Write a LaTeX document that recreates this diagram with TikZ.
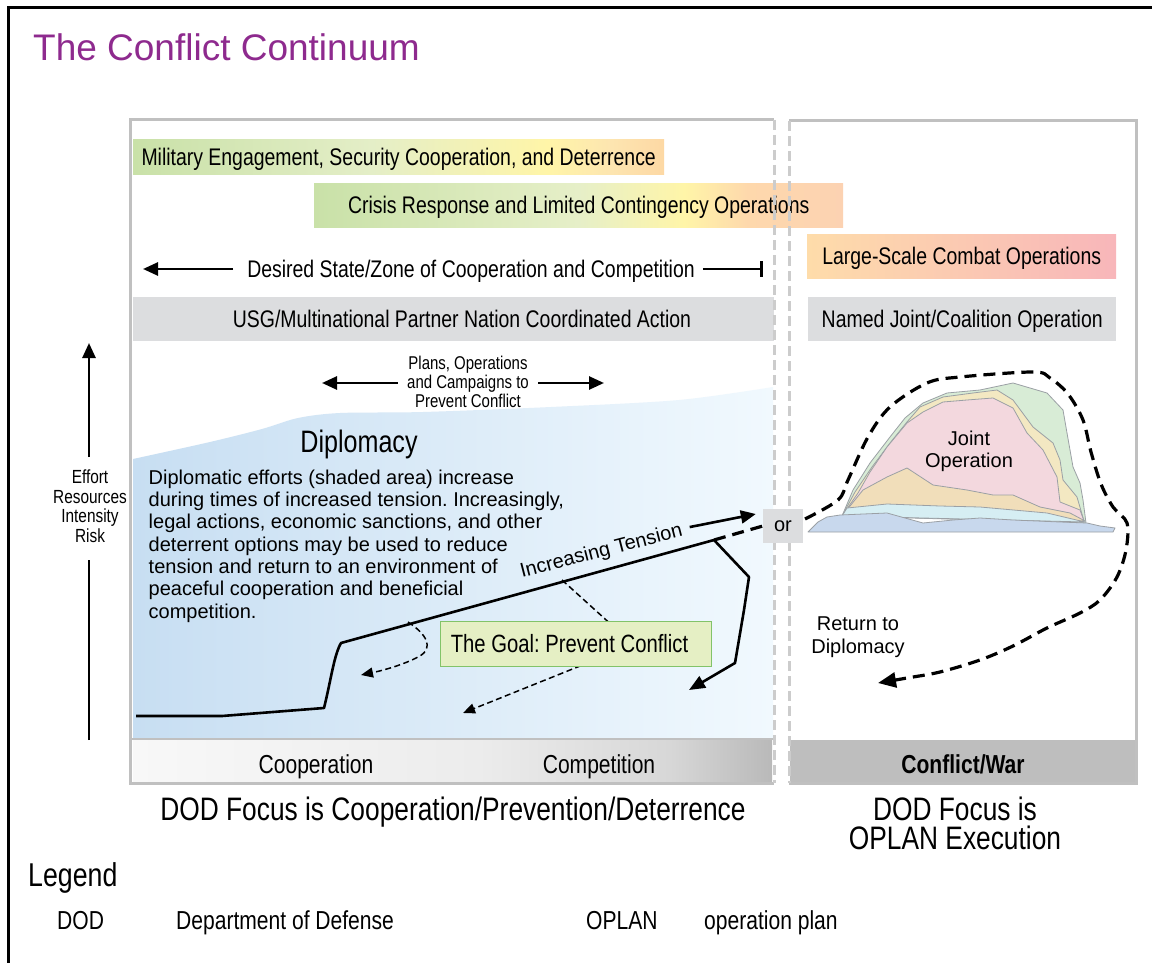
\documentclass[tikz,border=0pt]{standalone}
\usepackage{fontspec}
\setmainfont{Liberation Sans}
\newfontfamily\nf[FakeStretch=0.81]{Liberation Sans}
\usetikzlibrary{arrows.meta,calc}
\newcommand\fsz[2]{\fontsize{#1}{#2}\selectfont}
\frenchspacing

\definecolor{titlepurple}{RGB}{142,42,142}
\definecolor{framegray}{RGB}{192,192,192}
\definecolor{dashgray}{RGB}{204,204,204}
\definecolor{boxgray}{RGB}{220,221,223}
\definecolor{goalfill}{RGB}{229,239,196}
\definecolor{goalline}{RGB}{130,195,105}
\definecolor{diplL}{RGB}{199,222,242}
\definecolor{diplR}{RGB}{241,249,254}
\definecolor{warbar}{RGB}{190,190,190}
\definecolor{mgreen}{RGB}{216,236,214}
\definecolor{myellow}{RGB}{243,232,194}
\definecolor{mpink}{RGB}{243,216,222}
\definecolor{mtan}{RGB}{241,222,186}
\definecolor{mcyan}{RGB}{214,238,243}
\definecolor{mblue}{RGB}{200,216,237}
\definecolor{mline}{RGB}{155,160,165}
\definecolor{a1}{RGB}{201,225,168}
\definecolor{a2}{RGB}{228,238,199}
\definecolor{a3}{RGB}{255,245,168}
\definecolor{a4}{RGB}{253,229,176}
\definecolor{a5}{RGB}{253,216,164}
\definecolor{b2}{RGB}{230,239,200}
\definecolor{b4}{RGB}{254,216,172}
\definecolor{b5}{RGB}{252,210,178}
\definecolor{l1}{RGB}{254,220,170}
\definecolor{l2}{RGB}{248,182,186}
\definecolor{g1}{RGB}{248,248,248}
\definecolor{g2}{RGB}{236,236,236}
\definecolor{g3}{RGB}{215,215,215}
\definecolor{g4}{RGB}{185,185,185}

\pgfdeclarehorizontalshading{bandA}{100bp}{color(0bp)=(a1); color(25bp)=(a1); color(47.5bp)=(a2); color(64bp)=(a3); color(70bp)=(a4); color(75bp)=(a5); color(100bp)=(a5)}
\pgfdeclarehorizontalshading{bandB}{100bp}{color(0bp)=(a1); color(25bp)=(a1); color(50bp)=(b2); color(60bp)=(a3); color(66bp)=(b4); color(75bp)=(b5); color(100bp)=(b5)}
\pgfdeclarehorizontalshading{barA}{100bp}{color(0bp)=(g1); color(25bp)=(g1); color(52bp)=(g2); color(67bp)=(g3); color(75bp)=(g4); color(100bp)=(g4)}

\begin{document}
\begin{tikzpicture}[x=1pt,y=-1pt,
  nar/.style={font=\nf\fsz{24}{28}, inner sep=0pt, text height=17.2pt, text depth=0pt},
  framel/.style={draw=framegray, line width=3pt},
  dashl/.style={draw=dashgray, line width=3pt, dash pattern=on 10pt off 5pt},
  arr/.style={line width=2.6pt, -{Triangle[length=15pt,width=13pt]}},
  bigdash/.style={line width=3.2pt, dash pattern=on 12pt off 7pt},
  thindash/.style={line width=1.5pt, dash pattern=on 6pt off 3.5pt},
  mtl/.style={draw=mline, line width=0.8pt, line join=round},
  arial/.style={font=\fsz{20}{22}, inner sep=0pt}]
\useasboundingbox (0,0) rectangle (1152,963);
\fill[white] (0,0) rectangle (1152,963);

% outer frame
\draw[line width=3pt] (1152,7.5) -- (8.5,7.5) -- (8.5,963);

% title
\node[font=\fsz{37}{44}, text=titlepurple, inner sep=0pt, anchor=base west] (title) at (33,61) {The Conflict Continuum};

% diplomacy shading
\shade[left color=diplL, right color=diplR] plot[smooth, tension=0.5] coordinates {(133,459) (210,442) (262,429) (298,418) (340,413) (423,412) (551,407) (679,400) (773,387)} -- (773,739) -- (133,739) -- cycle;

% bottom bars
\node[anchor=north west, minimum width=639pt, minimum height=42pt, inner sep=0pt, shade, shading=barA] (coopbar) at (133,740) {};
\node[anchor=north west, minimum width=345pt, minimum height=42pt, inner sep=0pt, fill=warbar] (warb) at (790,740) {};
\draw[framel, line width=2pt] (131,739) -- (773,739);

% bands
\node[nar, anchor=north west, minimum width=531pt, minimum height=35pt, shade, shading=bandA] (meng) at (133,139) {Military Engagement, Security Cooperation, and Deterrence};
\node[nar, anchor=north west, minimum width=529pt, minimum height=44pt, shade, shading=bandB] (crisis) at (314,183) {Crisis Response and Limited Contingency Operations};
\node[nar, anchor=north west, minimum width=309pt, minimum height=44pt, left color=l1, right color=l2] (lsco) at (807,234) {Large-Scale Combat Operations};
\node[anchor=north west, minimum width=641pt, minimum height=44pt, inner sep=0pt, fill=boxgray] (usg) at (133,297) {};
\node[nar] (usgt) at (462,319) {USG/Multinational Partner Nation Coordinated Action};
\node[nar, anchor=north west, minimum width=308pt, minimum height=44pt, fill=boxgray] (named) at (808,297) {Named Joint/Coalition Operation};

% desired state arrow
\node[nar] (desired) at (471,269) {Desired State/Zone of Cooperation and Competition};
\coordinate (dsl) at (143,269);
\coordinate (dsr) at (763,269);
\draw[arr] ([xshift=-14pt]desired.west) -- (dsl);
\draw[line width=2.6pt, -{Bar[width=16pt,line width=2.6pt]}] ([xshift=8pt]desired.east) -- (dsr);

% panel frames
\draw[framel] (774,120) -- (130,120) -- (130,783) -- (774,783);
\draw[dashl] (774,120) -- (774,783);
\draw[framel] (789,121) -- (1136,121) -- (1136,783) -- (789,783);
\draw[dashl] (789,121) -- (789,783);

% plans
\node[font=\nf\fsz{18.5}{19}, align=center, inner sep=0pt, anchor=north] (plans) at (468,356) {Plans, Operations\\and Campaigns to\\Prevent Conflict};
\coordinate (plL) at (322,383);
\coordinate (plR) at (604,383);
\draw[arr] ([xshift=-9pt]plans.west |- plL) -- (plL);
\draw[arr] ([xshift=9pt]plans.east |- plR) -- (plR);

% diplomacy text
\node[font=\nf\fsz{31}{36}, inner sep=0pt, text height=22.2pt, text depth=0pt] (dipl) at (359,441) {Diplomacy};
\node[font=\fsz{20}{22.3}, align=left, anchor=north west, inner sep=0pt] (para) at (148.5,469.6) {Diplomatic efforts (shaded area) increase\\during times of increased tension. Increasingly,\\legal actions, economic sanctions, and other\\deterrent options may be used to reduce\\tension and return to an environment of\\peaceful cooperation and beneficial\\competition.};

% left axis
\node[font=\nf\fsz{19}{19.5}, align=center, inner sep=0pt, anchor=north] (axis) at (90,470) {Effort\\Resources\\Intensity\\Risk};
\coordinate (axbot) at (89,740);
\coordinate (axtop) at (89,343);
\draw[line width=2.6pt] (axbot) -- (axbot |- 0,560);
\draw[arr] (axbot |- 0,457) -- (axtop);

% thin dashed arrows
\coordinate (d1s) at (408,622);
\coordinate (d2s) at (562,580);
\draw[thindash, -{Triangle[length=12pt,width=10pt]}] (d1s) .. controls (425,633) and (436,648) .. (418,657) .. controls (405,664) and (385,670) .. (361,675);
\draw[thindash, -{Triangle[length=12pt,width=10pt]}] (d2s) -- (615,628) -- (590,662) -- (463,713);

% goal box
\node[draw=goalline, fill=goalfill, line width=1.2pt, minimum width=271pt, minimum height=45pt, anchor=north west, inner sep=0pt] (goal) at (440,621) {};
\node[font=\nf\fsz{25}{30}, inner sep=0pt, text height=17.9pt, text depth=0pt] (goalt) at (569.5,643.5) {The Goal: Prevent Conflict};

% or box
\node[fill=boxgray, minimum width=40pt, minimum height=34pt, inner sep=0pt, font=\fsz{20}{24}, text height=10.4pt, text depth=0pt] (or) at (783,526) {or};

% tension line
\coordinate (t0) at (136,716);
\coordinate (peak) at (714,540);
\draw[line width=2.6pt, line join=round, -{Triangle[length=16pt,width=13pt]}] (t0) -- (222,716) -- (324,708) .. controls (331,680) and (334,655) .. (341,643) -- (peak) -- (749,577) -- (744,610) -- (735,663) -- (689,690);
\draw[bigdash] (peak) -- (or.west);

\node[font=\fsz{20}{24}, rotate=14.5, inner sep=0pt, text height=14.3pt, text depth=0pt] (itl) at (601,550) {Increasing Tension};
\draw[arr] ($(itl.east)!-8pt!(itl.west)$) -- ($(or.west)+(-7,-12)$);

% mountain
\draw[mtl, fill=mgreen] (842,516) -- (853,490) -- (870,463) -- (890,437) -- (905,418) -- (923,403) -- (947,393) -- (980,390) -- (1013,383) -- (1047,393) -- (1063,410) -- (1067,433) -- (1073,467) -- (1080,483) -- (1083,500) -- (1086,523) -- cycle;
\draw[mtl, fill=myellow] (842,516) -- (855,492) -- (872,467) -- (890,443) -- (907,422) -- (920,407) -- (943,397) -- (973,393) -- (997,390) -- (1013,400) -- (1033,427) -- (1053,443) -- (1060,460) -- (1063,480) -- (1077,497) -- (1084,521) -- cycle;
\draw[mtl, fill=mpink] (842,516) -- (858,493) -- (870,472) -- (887,447) -- (907,423) -- (923,412) -- (943,402) -- (967,400) -- (993,398) -- (1013,408) -- (1027,433) -- (1043,450) -- (1057,477) -- (1060,502) -- (1080,510) -- (1084,521) -- cycle;
\draw[mtl, fill=mtan] (842,516) -- (863,490) -- (887,477) -- (907,468) -- (933,485) -- (967,490) -- (993,495) -- (1013,495) -- (1040,507) -- (1070,513) -- (1085,521) -- cycle;
\draw[mtl, fill=mcyan] (842,516) -- (847,508) -- (887,504) -- (940,506) -- (980,507) -- (1047,513) -- (1085,522) -- cycle;
\draw[mtl, fill=mblue] (808,532) -- (818,522) -- (827,517) -- (840,515) -- (887,513) -- (923,523) -- (953,520) -- (980,518) -- (1013,520) -- (1060,522) -- (1087,523) -- (1100,526) -- (1115,528) -- (1113,532) -- cycle;
\node[arial, align=center, anchor=north] (joint) at (969,431) {Joint\\Operation};

% return path
\coordinate (ret0) at (805,519);
\coordinate (ret1) at (878,683);
\draw[bigdash, -{Triangle[length=18pt,width=15pt]}] plot[smooth, tension=0.55] coordinates {(ret0) (838,500) (848,480) (868,437) (890,407) (927,383) (960,377) (1033,372) (1050,378) (1068,394) (1083,420) (1091,452) (1101,484) (1113,507) (1127,523) (1126,550) (1117,577) (1100,600) (1080,613) (1047,628) (1013,646) (980,660) (940,672) (907,678) (ret1)};
\node[font=\fsz{20}{23}, inner sep=0pt, align=center, anchor=north] (ret) at (858,617) {Return to\\Diplomacy};

% bottom bar labels
\node[font=\nf\fsz{26}{30}, inner sep=0pt, text height=18.6pt, text depth=0pt] (coop) at (316,764) {Cooperation};
\node[font=\nf\fsz{26}{30}, inner sep=0pt, text height=18.6pt, text depth=0pt] (comp) at (599,764) {Competition};
\node[font=\nf\bfseries\fsz{26}{30}, inner sep=0pt, text height=18.6pt, text depth=0pt] (war) at (963,764) {Conflict/War};

% focus texts
\node[font=\nf\fsz{32.5}{29}, inner sep=0pt, text height=23.3pt, text depth=0pt] (focus1) at (453,809) {DOD Focus is Cooperation/Prevention/Deterrence};
\node[font=\nf\fsz{32.5}{29}, align=center, anchor=north, inner sep=0pt] (focus2) at (955,797) {DOD Focus is\\OPLAN Execution};

% legend
\node[font=\nf\fsz{33}{38}, anchor=west, inner sep=0pt, text height=23.6pt, text depth=0pt] (legend) at (28,875) {Legend};
\node[font=\nf\fsz{26}{30}, anchor=west, inner sep=0pt, text height=18.6pt, text depth=0pt] (dod) at (57,920) {DOD};
\node[font=\nf\fsz{26}{30}, anchor=west, inner sep=0pt, text height=18.6pt, text depth=0pt] (dodd) at (176,920) {Department of Defense};
\node[font=\nf\fsz{26}{30}, anchor=west, inner sep=0pt, text height=18.6pt, text depth=0pt] (oplan) at (586,920) {OPLAN};
\node[font=\nf\fsz{26}{30}, anchor=west, inner sep=0pt, text height=18.6pt, text depth=0pt] (oplant) at (704,920) {operation plan};
\end{tikzpicture}
\end{document}
